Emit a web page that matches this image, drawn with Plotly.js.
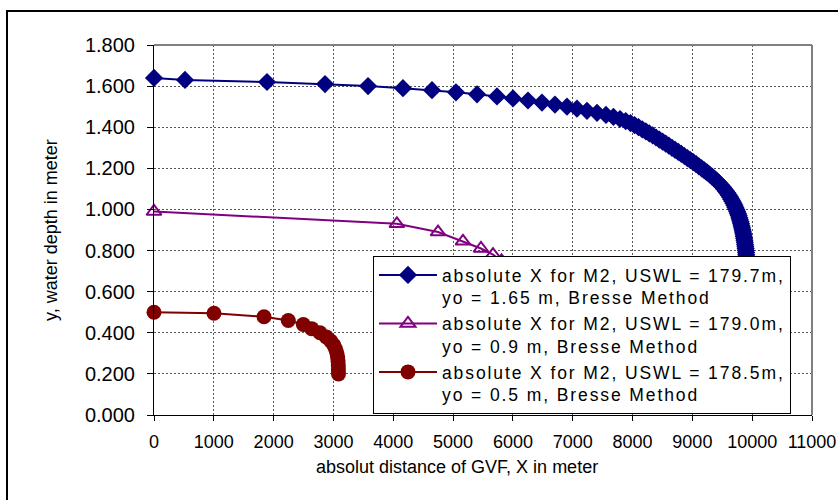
<!DOCTYPE html>
<html>
<head>
<meta charset="utf-8">
<script src="https://cdn.plot.ly/plotly-3.0.1.min.js"></script>
<style>
html, body { margin: 0; padding: 0; background: #fff; }
#chart { width: 838px; height: 500px; }
.legendtext { letter-spacing: 1.9px; }
</style>
</head>
<body>
<div id="chart"></div>
<script>
// Series 1: yo = 1.65 m (navy diamonds)
const blueX = [0, 518, 1889, 2859, 3578, 4162, 4647, 5048, 5400, 5734, 6001, 6252, 6486, 6703, 6904, 7071, 7238, 7406, 7556,
  7681, 7791, 7886, 7966, 8035, 8100, 8162, 8222, 8280, 8337, 8393, 8448, 8502, 8555, 8607,
  8660, 8712, 8764, 8815, 8866, 8916, 8966, 9015, 9063, 9110, 9156, 9201, 9245, 9288, 9329,
  9368, 9405, 9440, 9473, 9504, 9533, 9560, 9585, 9608, 9630, 9650, 9669, 9687, 9704, 9720,
  9735, 9749, 9762, 9774, 9785, 9795, 9805, 9814, 9823, 9831, 9839, 9846, 9853, 9859, 9865,
  9871, 9876, 9881, 9886, 9890, 9894, 9898, 9901, 9904, 9907, 9910, 9912, 9914, 9916];
const blueY = [1.64, 1.63, 1.62, 1.61, 1.60, 1.59, 1.58, 1.57, 1.56, 1.55, 1.54, 1.53, 1.52, 1.51, 1.50, 1.49, 1.48, 1.47, 1.46,
  1.45, 1.44, 1.43, 1.42, 1.41, 1.40, 1.39, 1.38, 1.37, 1.36, 1.35, 1.34, 1.33, 1.32, 1.31,
  1.30, 1.29, 1.28, 1.27, 1.26, 1.25, 1.24, 1.23, 1.22, 1.21, 1.20, 1.19, 1.18, 1.17, 1.16,
  1.15, 1.14, 1.13, 1.12, 1.11, 1.10, 1.09, 1.08, 1.07, 1.06, 1.05, 1.04, 1.03, 1.02, 1.01,
  1.00, 0.99, 0.98, 0.97, 0.96, 0.95, 0.94, 0.93, 0.92, 0.91, 0.90, 0.89, 0.88, 0.87, 0.86,
  0.85, 0.84, 0.83, 0.82, 0.81, 0.80, 0.79, 0.78, 0.77, 0.76, 0.75, 0.74, 0.73, 0.72];

// Series 2: yo = 0.9 m (purple open triangles)
const purpleX = [0, 4060, 4748, 5165, 5466, 5667, 5810, 5920, 6000, 6060, 6100, 6120];
const purpleY = [0.99, 0.93, 0.89, 0.845, 0.81, 0.78, 0.75, 0.72, 0.69, 0.66, 0.63, 0.60];

// Series 3: yo = 0.5 m (dark red circles)
const redX = [0, 1003, 1839, 2245, 2496, 2636, 2775, 2880, 2955, 3005, 3038, 3058, 3070, 3077, 3081, 3083, 3084];
const redY = [0.50, 0.495, 0.478, 0.46, 0.44, 0.42, 0.40, 0.38, 0.36, 0.34, 0.32, 0.30, 0.28, 0.26, 0.24, 0.22, 0.20];

const seriesNames = [
  "absolute X for M2, USWL = 179.7m,<br>yo = 1.65 m, Bresse Method",
  "absolute X for M2, USWL = 179.0m,<br>yo = 0.9 m, Bresse Method",
  "absolute X for M2, USWL = 178.5m,<br>yo = 0.5 m, Bresse Method"
];
const xTitle = "absolut distance of GVF, X in meter";
const yTitle = "y, water depth in meter";

const FONT = "Arial, 'Liberation Sans', sans-serif";

const traces = [
  { x: blueX, y: blueY, name: seriesNames[0], type: 'scatter', mode: 'lines+markers', cliponaxis: false,
    line: { color: '#000080', width: 2 },
    marker: { symbol: 'diamond', size: 14, color: '#000080' } },
  { x: purpleX, y: purpleY, name: seriesNames[1], type: 'scatter', mode: 'lines+markers', cliponaxis: false,
    line: { color: '#800080', width: 2 },
    marker: { symbol: 'triangle-up-open', size: 13, color: '#800080', line: { width: 2, color: '#800080' } } },
  { x: redX, y: redY, name: seriesNames[2], type: 'scatter', mode: 'lines+markers', cliponaxis: false,
    line: { color: '#800000', width: 2 },
    marker: { symbol: 'circle', size: 15, color: '#800000' } }
];

const layout = {
  width: 838, height: 500,
  margin: { l: 154, r: 26, t: 45, b: 85, pad: 0 },
  paper_bgcolor: '#ffffff', plot_bgcolor: '#ffffff',
  font: { family: FONT, color: '#000000', size: 18 },
  showlegend: true,
  xaxis: {
    range: [0, 11000], tick0: 0, dtick: 1000, tickformat: 'd',
    showgrid: true, gridcolor: '#555555', griddash: '2px,2px', gridwidth: 1,
    zeroline: false, showline: true, linecolor: '#000000', linewidth: 1,
    ticks: 'outside', ticklen: 5, tickcolor: '#000000',
    tickfont: { family: FONT, size: 18 }, ticklabelstandoff: 5
  },
  yaxis: {
    range: [0, 1.8], tick0: 0, dtick: 0.2, tickformat: '.3f',
    showgrid: true, gridcolor: '#555555', griddash: '2px,2px', gridwidth: 1,
    zeroline: false, showline: true, linecolor: '#000000', linewidth: 1,
    ticks: 'outside', ticklen: 6, tickcolor: '#000000',
    tickfont: { family: FONT, size: 20 }, ticklabelstandoff: 8
  },
  legend: {
    x: 0.3328, y: 0.4297, xanchor: 'left', yanchor: 'top',
    bgcolor: '#ffffff', bordercolor: '#000000', borderwidth: 1,
    font: { family: FONT, size: 17.5 }, valign: 'top', itemwidth: 58,
    tracegroupgap: 0
  },
  annotations: [
    { text: xTitle, xref: 'paper', yref: 'paper', x: 0.4605, y: -0.1405, xanchor: 'center', yanchor: 'middle',
      showarrow: false, font: { family: FONT, size: 18 } },
    { text: yTitle, xref: 'paper', yref: 'paper', x: -0.1565, y: 0.5, xanchor: 'center', yanchor: 'middle',
      textangle: -90, showarrow: false, font: { family: FONT, size: 18 } }
  ],
  shapes: [
    { type: 'line', xref: 'paper', yref: 'paper', x0: 0, x1: 1, y0: 1, y1: 1, line: { color: '#808080', width: 2 } },
    { type: 'line', xref: 'paper', yref: 'paper', x0: 1, x1: 1, y0: 0, y1: 1, line: { color: '#808080', width: 2 } },
    { type: 'rect', xref: 'paper', yref: 'paper', x0: -0.2234, x1: 1.2, y0: -0.5, y1: 1.0919, line: { color: '#000000', width: 2 } }
  ]
};

Plotly.newPlot('chart', traces, layout, { displayModeBar: false, staticPlot: true });
</script>
</body>
</html>
